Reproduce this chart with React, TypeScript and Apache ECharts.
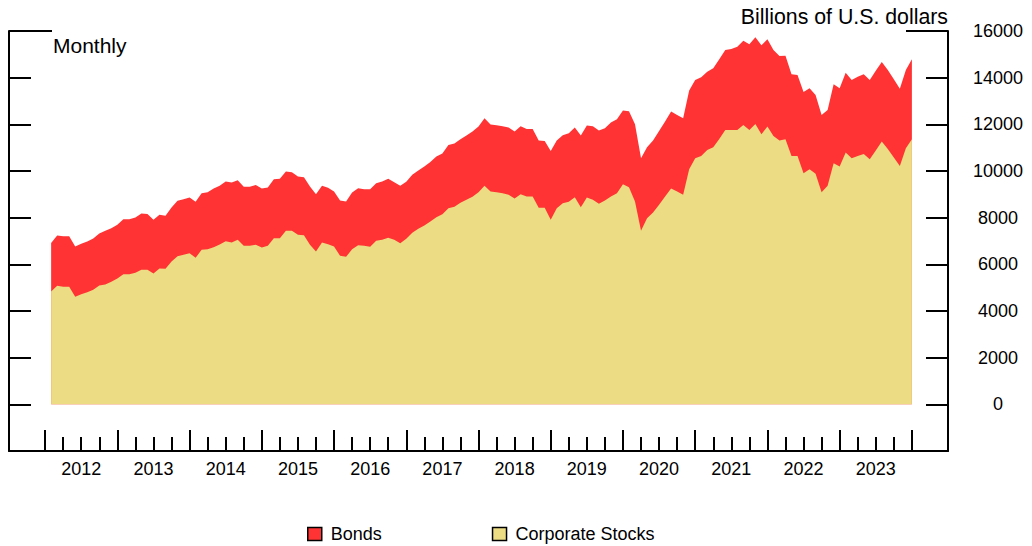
import React, { useEffect, useRef } from 'react';
import * as echarts from 'echarts';

// Months counted from Jan 2012 (value 1 = end of Jan 2012, 144 = end of Dec 2023)
const yearLabels = ['2012', '2013', '2014', '2015', '2016', '2017', '2018', '2019', '2020', '2021', '2022', '2023'];

const stocks = [
  4836, 5080, 5037, 5037, 4608, 4723, 4808, 4908, 5093, 5136, 5251, 5393,
  5580, 5580, 5637, 5765, 5765, 5608, 5822, 5808, 6121, 6350, 6407, 6479,
  6279, 6622, 6650, 6736, 6850, 6993, 6936, 7050, 6793, 6793, 6843, 6721,
  6793, 7122, 7122, 7435, 7435, 7264, 7250, 6836, 6549, 6936, 6865, 6764,
  6364, 6321, 6650, 6822, 6793, 6750, 7007, 7050, 7136, 7050, 6907, 7093,
  7350, 7521, 7664, 7835, 8022, 8150, 8407, 8463, 8634, 8763, 8892, 9085,
  9363, 9119, 9093, 9050, 8977, 8820, 9007, 8905, 8905, 8420, 8420, 7906,
  8407, 8621, 8677, 8878, 8450, 8862, 8763, 8592, 8733, 8905, 9050, 9435,
  9306, 8690, 7435, 7979, 8219, 8549, 8905, 9247, 9119, 8977, 10080, 10549,
  10648, 10905, 11020, 11376, 11761, 11761, 11761, 11975, 11761, 12018, 11577, 11903,
  11504, 11303, 11363, 10648, 10648, 9907, 10077, 9877, 9093, 9363, 10335, 10191,
  10789, 10549, 10648, 10733, 10506, 10875, 11261, 10947, 10575, 10219, 10977, 11363,
];

const bonds = [
  2073, 2155, 2171, 2171, 2155, 2155, 2169, 2198, 2227, 2299, 2300, 2299,
  2356, 2356, 2368, 2411, 2397, 2298, 2298, 2269, 2312, 2370, 2385, 2383,
  2398, 2428, 2443, 2511, 2513, 2554, 2568, 2557, 2527, 2527, 2557, 2534,
  2499, 2527, 2541, 2542, 2514, 2499, 2484, 2498, 2458, 2427, 2412, 2355,
  2369, 2369, 2426, 2441, 2427, 2470, 2471, 2497, 2527, 2470, 2456, 2441,
  2484, 2498, 2527, 2556, 2596, 2596, 2712, 2712, 2729, 2754, 2797, 2825,
  2899, 2871, 2869, 2869, 2883, 2869, 2912, 2899, 2899, 2883, 2870, 2956,
  2896, 2913, 2943, 2982, 3067, 3084, 3156, 3140, 3101, 3169, 3169, 3153,
  3256, 3315, 3114, 3041, 3084, 3169, 3212, 3298, 3285, 3285, 3370, 3354,
  3370, 3353, 3384, 3413, 3426, 3469, 3568, 3611, 3669, 3712, 3810, 3741,
  3683, 3627, 3580, 3498, 3469, 3482, 3469, 3383, 3310, 3255, 3383, 3355,
  3426, 3354, 3396, 3413, 3397, 3426, 3413, 3384, 3357, 3311, 3354, 3426,
];

const FONT = '"Liberation Sans", Arial, sans-serif';
const yearStarts = yearLabels.map((_, i) => i * 12).concat([yearLabels.length * 12]);
const yearMids = yearLabels.map((_, i) => i * 12 + 6);
const quarterTicks: number[] = [];
yearLabels.forEach((_, i) => {
  quarterTicks.push(i * 12 + 3, i * 12 + 6, i * 12 + 9);
});

export default function App() {
  const ref = useRef<HTMLDivElement>(null);
  useEffect(() => {
    if (!ref.current) return;
    const chart = echarts.init(ref.current, undefined, { renderer: 'svg' });
    const axisLine = { show: true, onZero: false, lineStyle: { color: '#000', width: 2 } };
    const tickStyle = { color: '#000', width: 2 };
    // stacked top edge = stocks + bonds
    const totals = stocks.map((s, i) => [i + 1, s + bonds[i]]);
    chart.setOption({
      animation: false,
      textStyle: { fontFamily: FONT },
      grid: { left: 9, right: 84, top: 31, bottom: 95, containLabel: false },
      legend: {
        data: ['Bonds', 'Corporate Stocks'],
        left: 307,
        top: 525,
        padding: 0,
        icon: 'rect',
        itemWidth: 14,
        itemHeight: 13,
        itemGap: 110,
        itemStyle: { borderColor: '#000', borderWidth: 1.5 },
        textStyle: { fontSize: 18, color: '#000', fontFamily: FONT, padding: [0, 0, 0, 4] },
      },
      xAxis: [
        {
          type: 'value',
          min: -6,
          max: 150,
          position: 'bottom',
          axisLine,
          axisTick: { show: true, inside: true, length: 21, customValues: yearStarts, lineStyle: tickStyle },
          axisLabel: {
            show: true,
            customValues: yearMids,
            formatter: (v: number) => yearLabels[Math.round((v - 6) / 12)] ?? '',
            fontSize: 18,
            color: '#000',
            fontFamily: FONT,
            margin: 9,
          },
          splitLine: { show: false },
        },
        {
          type: 'value',
          min: -6,
          max: 150,
          position: 'bottom',
          axisLine: { show: false, onZero: false },
          axisTick: { show: true, inside: true, length: 14, customValues: quarterTicks, lineStyle: tickStyle },
          axisLabel: { show: false },
          splitLine: { show: false },
        },
      ],
      yAxis: [
        {
          type: 'value',
          position: 'left',
          min: -2000,
          max: 16000,
          interval: 2000,
          axisLine,
          axisTick: { show: true, inside: true, length: 22, lineStyle: tickStyle },
          axisLabel: { show: false },
          splitLine: { show: false },
        },
        {
          type: 'value',
          position: 'right',
          min: -2000,
          max: 16000,
          interval: 2000,
          axisLine,
          axisTick: { show: true, inside: true, length: 22, lineStyle: tickStyle },
          axisLabel: {
            show: true,
            align: 'center',
            margin: 50,
            fontSize: 18,
            color: '#000',
            fontFamily: FONT,
            formatter: (v: number) => (v < 0 ? '' : String(v)),
          },
          splitLine: { show: false },
        },
      ],
      series: [
        {
          name: 'Bonds',
          type: 'line',
          xAxisIndex: 0,
          yAxisIndex: 0,
          data: totals,
          showSymbol: false,
          symbol: 'none',
          lineStyle: { width: 0 },
          itemStyle: { color: '#FF3333' },
          areaStyle: { color: '#FF3333', opacity: 1, origin: 0 },
          z: 2,
        },
        {
          name: 'Corporate Stocks',
          type: 'line',
          xAxisIndex: 0,
          yAxisIndex: 0,
          data: stocks.map((v, i) => [i + 1, v]),
          showSymbol: false,
          symbol: 'none',
          lineStyle: { width: 0 },
          itemStyle: { color: '#ECDC84' },
          areaStyle: { color: '#ECDC84', opacity: 1, origin: 0 },
          z: 3,
        },
      ],
      graphic: [
        {
          type: 'text',
          x: 53,
          y: 45,
          style: { text: 'Monthly', fontSize: 21, fontFamily: FONT, fill: '#000', verticalAlign: 'middle', align: 'left' },
        },
        {
          type: 'text',
          x: 948,
          y: 17,
          style: { text: 'Billions of U.S. dollars', fontSize: 21.3, fontFamily: FONT, fill: '#000', verticalAlign: 'middle', align: 'right' },
        },
        { type: 'line', shape: { x1: 9, y1: 31, x2: 52, y2: 31 }, style: { stroke: '#000', lineWidth: 2 } },
        { type: 'line', shape: { x1: 906, y1: 31, x2: 948, y2: 31 }, style: { stroke: '#000', lineWidth: 2 } },
      ],
    });
    return () => chart.dispose();
  }, []);
  return <div ref={ref} style={{ position: 'absolute', left: 0, top: 0, width: 1032, height: 546 }} />;
}
